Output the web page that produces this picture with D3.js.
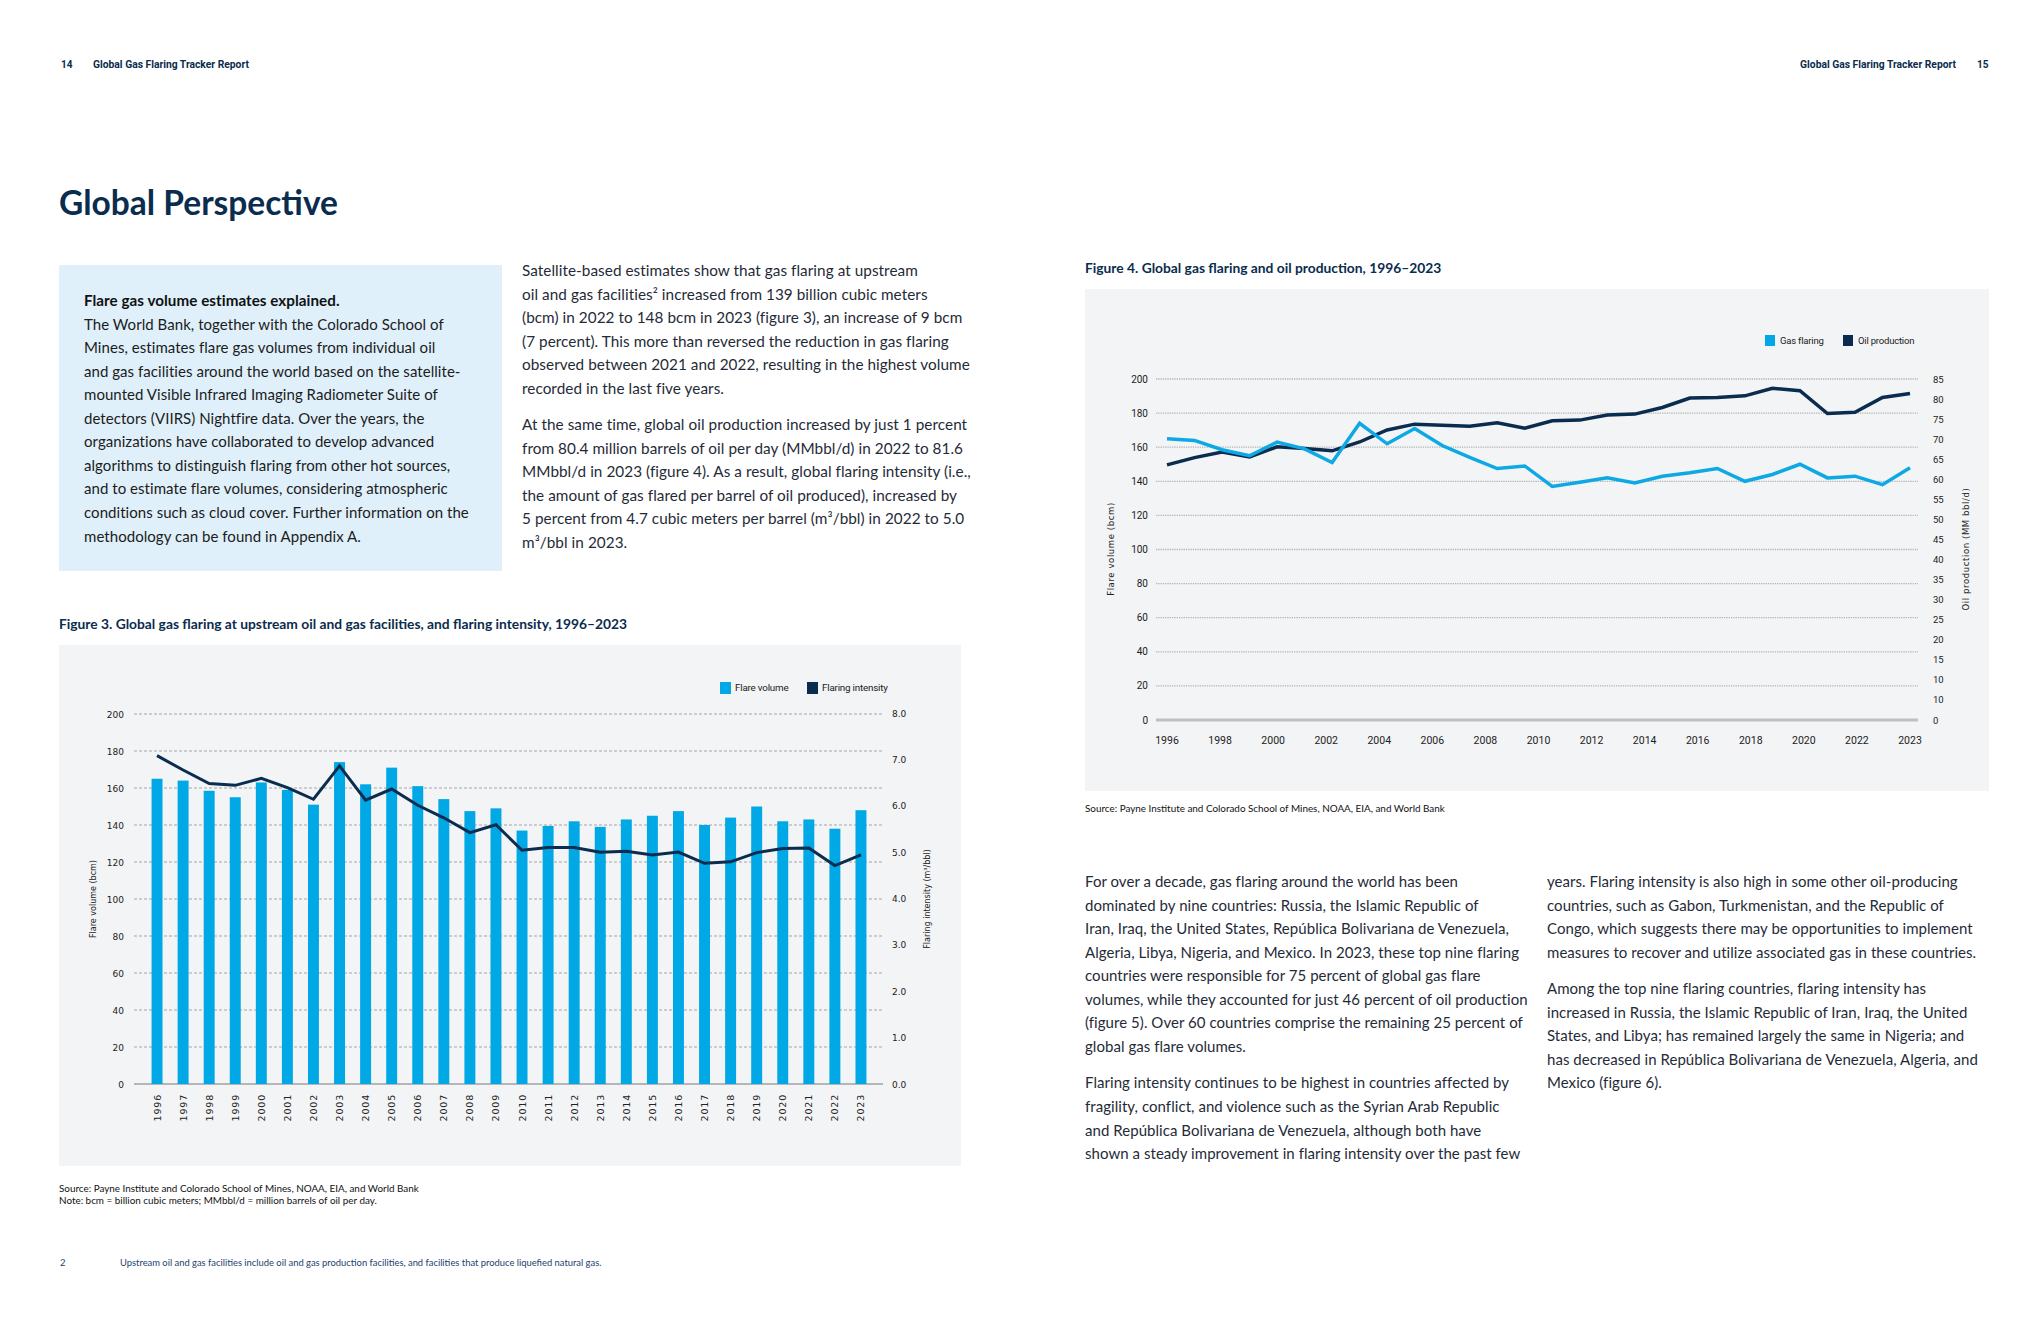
<!DOCTYPE html>
<html>
<head>
<meta charset="utf-8">
<script src="https://cdn.jsdelivr.net/npm/d3@7"></script>
<style>
  html, body { margin: 0; padding: 0; background: #ffffff; }
  svg { display: block; }
</style>
</head>
<body>
<svg id="page" width="2040" height="1320"></svg>
<script>
// ---------------- DATA ----------------
const years = ["1996","1997","1998","1999","2000","2001","2002","2003","2004","2005","2006","2007","2008","2009",
               "2010","2011","2012","2013","2014","2015","2016","2017","2018","2019","2020","2021","2022","2023"];
// Flare volume (bcm)
const flareVolume = [165, 164, 158.5, 155, 163, 159, 151, 174, 162, 171, 161, 154, 147.5, 149,
                     137, 139.5, 142, 139, 143, 145, 147.5, 140, 144, 150, 142, 143, 138, 148];
// Flaring intensity (m3/bbl)
const flaringIntensity = [7.08, 6.77, 6.48, 6.44, 6.59, 6.39, 6.14, 6.86, 6.12, 6.36, 6.01, 5.74, 5.42, 5.59,
                          5.04, 5.10, 5.10, 5.00, 5.02, 4.94, 5.00, 4.76, 4.79, 4.99, 5.08, 5.09, 4.71, 4.94];
// Oil production (MMbbl/d)
const oilProduction = [63.6, 65.4, 66.8, 65.6, 68.1, 67.7, 67.1, 69.3, 72.3, 73.75, 73.5, 73.2, 74.1, 72.75,
                       74.6, 74.75, 76.0, 76.25, 77.9, 80.25, 80.4, 80.8, 82.7, 82.1, 76.4, 76.7, 80.4, 81.4];

const fig3LeftTicks = [0, 20, 40, 60, 80, 100, 120, 140, 160, 180, 200];
const fig3RightTicks = [0, 1, 2, 3, 4, 5, 6, 7, 8];
const fig4LeftTicks = [0, 20, 40, 60, 80, 100, 120, 140, 160, 180, 200];
const fig4RightTickValues = [0, 5, 10, 15, 20, 25, 30, 35, 40, 45, 50, 55, 60, 65, 70, 75, 80, 85];
const fig4RightTickLabels = ["0", "10", "10", "15", "20", "25", "30", "35", "40", "45", "50", "55", "60", "65", "70", "75", "80", "85"];
const fig4XLabels = ["1996","1998","2000","2002","2004","2006","2008","2010","2012","2014","2016","2018","2020","2022","2023"];

const boxText = [
  "The World Bank, together with the Colorado School of",
  "Mines, estimates flare gas volumes from individual oil",
  "and gas facilities around the world based on the satellite-",
  "mounted Visible Infrared Imaging Radiometer Suite of",
  "detectors (VIIRS) Nightfire data. Over the years, the",
  "organizations have collaborated to develop advanced",
  "algorithms to distinguish flaring from other hot sources,",
  "and to estimate flare volumes, considering atmospheric",
  "conditions such as cloud cover. Further information on the",
  "methodology can be found in Appendix A."
];
const midPara1 = [
  "Satellite-based estimates show that gas flaring at upstream",
  "oil and gas facilities² increased from 139 billion cubic meters",
  "(bcm) in 2022 to 148 bcm in 2023 (figure 3), an increase of 9 bcm",
  "(7 percent). This more than reversed the reduction in gas flaring",
  "observed between 2021 and 2022, resulting in the highest volume",
  "recorded in the last five years."
];
const midPara2 = [
  "At the same time, global oil production increased by just 1 percent",
  "from 80.4 million barrels of oil per day (MMbbl/d) in 2022 to 81.6",
  "MMbbl/d in 2023 (figure 4). As a result, global flaring intensity (i.e.,",
  "the amount of gas flared per barrel of oil produced), increased by",
  "5 percent from 4.7 cubic meters per barrel (m³/bbl) in 2022 to 5.0",
  "m³/bbl in 2023."
];
const rightCol1Para1 = [
  "For over a decade, gas flaring around the world has been",
  "dominated by nine countries: Russia, the Islamic Republic of",
  "Iran, Iraq, the United States, República Bolivariana de Venezuela,",
  "Algeria, Libya, Nigeria, and Mexico. In 2023, these top nine flaring",
  "countries were responsible for 75 percent of global gas flare",
  "volumes, while they accounted for just 46 percent of oil production",
  "(figure 5). Over 60 countries comprise the remaining 25 percent of",
  "global gas flare volumes."
];
const rightCol1Para2 = [
  "Flaring intensity continues to be highest in countries affected by",
  "fragility, conflict, and violence such as the Syrian Arab Republic",
  "and República Bolivariana de Venezuela, although both have",
  "shown a steady improvement in flaring intensity over the past few"
];
const rightCol2Para1 = [
  "years. Flaring intensity is also high in some other oil-producing",
  "countries, such as Gabon, Turkmenistan, and the Republic of",
  "Congo, which suggests there may be opportunities to implement",
  "measures to recover and utilize associated gas in these countries."
];
const rightCol2Para2 = [
  "Among the top nine flaring countries, flaring intensity has",
  "increased in Russia, the Islamic Republic of Iran, Iraq, the United",
  "States, and Libya; has remained largely the same in Nigeria; and",
  "has decreased in República Bolivariana de Venezuela, Algeria, and",
  "Mexico (figure 6)."
];

// ---------------- STYLE ----------------
const NAVY = "#0a2c4e";
const BLUE = "#00a8e6";
const TEXT = "#1f2b38";
const PANEL = "#f2f4f6";
const BODY_FONT = "Lato, 'Open Sans', sans-serif";
const CHART_FONT = "'DejaVu Sans', sans-serif";
const COND_FONT = "Roboto, 'Open Sans', sans-serif";
const LH = 23.55;

const svg = d3.select("#page");
svg.append("rect").attr("width", 2040).attr("height", 1320).attr("fill", "#fff");

function textBlock(lines, x, y0, opts = {}) {
  const g = svg.append("g");
  lines.forEach((t, i) => {
    g.append("text").attr("x", x).attr("y", y0 + i * LH)
      .attr("font-family", BODY_FONT).attr("font-size", opts.size || 15)
      .attr("font-weight", opts.weight || 400)
      .attr("letter-spacing", opts.ls || 0.05)
      .attr("fill", opts.fill || TEXT).text(t);
  });
}

// ---------------- HEADERS ----------------
svg.append("text").attr("x", 61).attr("y", 68).attr("font-family", COND_FONT).attr("font-size", 10)
  .attr("font-weight", 700).attr("fill", NAVY).text("14");
svg.append("text").attr("x", 93).attr("y", 68).attr("font-family", COND_FONT).attr("font-size", 10.3)
  .attr("font-weight", 700).attr("fill", NAVY).text("Global Gas Flaring Tracker Report");
svg.append("text").attr("x", 1956).attr("y", 68).attr("text-anchor", "end").attr("font-family", COND_FONT).attr("font-size", 10.3)
  .attr("font-weight", 700).attr("fill", NAVY).text("Global Gas Flaring Tracker Report");
svg.append("text").attr("x", 1977).attr("y", 68).attr("font-family", COND_FONT).attr("font-size", 10)
  .attr("font-weight", 700).attr("fill", NAVY).text("15");

svg.append("text").attr("x", 59).attr("y", 215).attr("font-family", BODY_FONT).attr("font-size", 33.5)
  .attr("font-weight", 700).attr("fill", NAVY).text("Global Perspective");

// ---------------- INFO BOX ----------------
svg.append("rect").attr("x", 59).attr("y", 265).attr("width", 443).attr("height", 306).attr("fill", "#dff0fa");
textBlock(["Flare gas volume estimates explained."], 84, 306, { weight: 700, fill: "#111", size: 15.2 });
textBlock(boxText, 84, 306 + LH, { fill: "#1c1c1c" });

// ---------------- MIDDLE TEXT ----------------
textBlock(midPara1, 522, 276, { size: 15.3 });
textBlock(midPara2, 522, 430, { size: 15.3 });

// ---------------- FIGURE 3 ----------------
svg.append("text").attr("x", 59).attr("y", 629).attr("font-family", BODY_FONT).attr("font-size", 13.8)
  .attr("font-weight", 700).attr("fill", NAVY)
  .text("Figure 3. Global gas flaring at upstream oil and gas facilities, and flaring intensity, 1996–2023");
svg.append("rect").attr("x", 59).attr("y", 645).attr("width", 902).attr("height", 521).attr("fill", PANEL);

const f3 = svg.append("g");
const x3 = d3.scaleBand().domain(years).range([144, 874]).paddingInner(0.58).paddingOuter(0.29);
const y3L = d3.scaleLinear().domain([0, 200]).range([1084, 714]);
const y3R = d3.scaleLinear().domain([0, 8]).range([1084, 713]);

// gridlines
f3.selectAll("line.grid").data(fig3LeftTicks.filter(d => d > 0)).join("line")
  .attr("x1", 134).attr("x2", 883).attr("y1", d => y3L(d)).attr("y2", d => y3L(d))
  .attr("stroke", "#a3a6a9").attr("stroke-width", 1).attr("stroke-dasharray", "3,2");
f3.append("line").attr("x1", 134).attr("x2", 883).attr("y1", y3L(0)).attr("y2", y3L(0))
  .attr("stroke", "#b4b6b8").attr("stroke-width", 2);

// left axis labels
f3.selectAll("text.yl").data(fig3LeftTicks).join("text")
  .attr("x", 124).attr("y", d => y3L(d) + 3.5).attr("text-anchor", "end")
  .attr("font-family", CHART_FONT).attr("font-size", 9).attr("fill", "#222").text(d => d);
// right axis labels
f3.selectAll("text.yr").data(fig3RightTicks).join("text")
  .attr("x", 892).attr("y", d => y3R(d) + 3.5).attr("text-anchor", "start")
  .attr("font-family", CHART_FONT).attr("font-size", 9).attr("fill", "#222").text(d => d3.format(".1f")(d));

// bars
f3.selectAll("rect.bar").data(years).join("rect")
  .attr("x", d => x3(d)).attr("width", x3.bandwidth())
  .attr("y", (d, i) => y3L(flareVolume[i])).attr("height", (d, i) => y3L(0) - y3L(flareVolume[i]))
  .attr("fill", BLUE);

// intensity line
const line3 = d3.line().x((d, i) => x3(years[i]) + x3.bandwidth() / 2).y(d => y3R(d));
f3.append("path").datum(flaringIntensity).attr("d", line3).attr("fill", "none")
  .attr("stroke", NAVY).attr("stroke-width", 3).attr("stroke-linejoin", "miter");

// x labels
f3.selectAll("text.xl").data(years).join("text")
  .attr("transform", d => `translate(${x3(d) + x3.bandwidth() / 2 + 3.5},1094) rotate(-90)`)
  .attr("text-anchor", "end").attr("font-family", CHART_FONT).attr("font-size", 9.5)
  .attr("letter-spacing", 0.8).attr("fill", "#222").text(d => d);

// axis titles
f3.append("text").attr("transform", "translate(96,899) rotate(-90)").attr("text-anchor", "middle")
  .attr("font-family", CHART_FONT).attr("font-size", 8).attr("fill", "#222").text("Flare volume (bcm)");
f3.append("text").attr("transform", "translate(930,899) rotate(-90)").attr("text-anchor", "middle")
  .attr("font-family", CHART_FONT).attr("font-size", 8).attr("fill", "#222").text("Flaring intensity (m³/bbl)");

// legend
const leg3 = [{ label: "Flare volume", color: BLUE, x: 720 }, { label: "Flaring intensity", color: NAVY, x: 807 }];
leg3.forEach(l => {
  f3.append("rect").attr("x", l.x).attr("y", 682).attr("width", 11).attr("height", 12).attr("fill", l.color);
  f3.append("text").attr("x", l.x + 15).attr("y", 691).attr("font-family", COND_FONT).attr("font-size", 9.8)
    .attr("fill", "#222").attr("letter-spacing", -0.2).text(l.label);
});

// footnotes
svg.append("text").attr("x", 59).attr("y", 1192).attr("font-family", BODY_FONT).attr("font-size", 9.9)
  .attr("fill", "#111").text("Source: Payne Institute and Colorado School of Mines, NOAA, EIA, and World Bank");
svg.append("text").attr("x", 59).attr("y", 1204).attr("font-family", BODY_FONT).attr("font-size", 9.9)
  .attr("fill", "#111").text("Note: bcm = billion cubic meters; MMbbl/d = million barrels of oil per day.");
svg.append("text").attr("x", 60).attr("y", 1266).attr("font-family", BODY_FONT).attr("font-size", 9.5)
  .attr("fill", "#1d3f6e").text("2");
svg.append("text").attr("x", 120).attr("y", 1266).attr("font-family", BODY_FONT).attr("font-size", 9.4)
  .attr("fill", "#1d3f6e").text("Upstream oil and gas facilities include oil and gas production facilities, and facilities that produce liquefied natural gas.");

// ---------------- FIGURE 4 ----------------
svg.append("text").attr("x", 1085).attr("y", 273).attr("font-family", BODY_FONT).attr("font-size", 13.8)
  .attr("font-weight", 700).attr("fill", NAVY)
  .text("Figure 4. Global gas flaring and oil production, 1996–2023");
svg.append("rect").attr("x", 1085).attr("y", 289).attr("width", 904).attr("height", 502).attr("fill", PANEL);

const f4 = svg.append("g");
const x4 = d3.scalePoint().domain(years).range([1167, 1910]);
const x4Labels = d3.scalePoint().domain(fig4XLabels).range([1167, 1910]);
const y4L = d3.scaleLinear().domain([0, 200]).range([720, 379]);
const y4R = d3.scaleLinear().domain([0, 85]).range([720, 379]);

f4.selectAll("line.grid").data(fig4LeftTicks.filter(d => d > 0)).join("line")
  .attr("x1", 1156).attr("x2", 1918).attr("y1", d => y4L(d)).attr("y2", d => y4L(d))
  .attr("stroke", "#b2b4b6").attr("stroke-width", 1.3).attr("stroke-dasharray", "1.3,1");
f4.append("line").attr("x1", 1156).attr("x2", 1918).attr("y1", y4L(0)).attr("y2", y4L(0))
  .attr("stroke", "#bdbfc1").attr("stroke-width", 3);

f4.selectAll("text.yl").data(fig4LeftTicks).join("text")
  .attr("x", 1148).attr("y", d => y4L(d) + 3.5).attr("text-anchor", "end")
  .attr("font-family", COND_FONT).attr("font-size", 10).attr("fill", "#222").text(d => d);
f4.selectAll("text.yr").data(fig4RightTickValues).join("text")
  .attr("x", 1933).attr("y", d => y4R(d) + 3.5).attr("text-anchor", "start")
  .attr("font-family", COND_FONT).attr("font-size", 9.5).attr("fill", "#222")
  .text((d, i) => fig4RightTickLabels[i]);
f4.selectAll("text.xl").data(fig4XLabels).join("text")
  .attr("x", d => x4Labels(d)).attr("y", 744).attr("text-anchor", "middle")
  .attr("font-family", COND_FONT).attr("font-size", 10.5).attr("fill", "#222").text(d => d);

const lineFlare = d3.line().x((d, i) => x4(years[i])).y(d => y4L(d));
const lineOil = d3.line().x((d, i) => x4(years[i])).y(d => y4R(d));
f4.append("path").datum(oilProduction).attr("d", lineOil).attr("fill", "none")
  .attr("stroke", NAVY).attr("stroke-width", 3.5);
f4.append("path").datum(flareVolume).attr("d", lineFlare).attr("fill", "none")
  .attr("stroke", "#0ea9e4").attr("stroke-width", 3.5);

f4.append("text").attr("transform", "translate(1114,549) rotate(-90)").attr("text-anchor", "middle")
  .attr("font-family", CHART_FONT).attr("font-size", 8.5).attr("letter-spacing", 0.6).attr("fill", "#222").text("Flare volume (bcm)");
f4.append("text").attr("transform", "translate(1969,549) rotate(-90)").attr("text-anchor", "middle")
  .attr("font-family", CHART_FONT).attr("font-size", 8.5).attr("letter-spacing", 0.6).attr("fill", "#222").text("Oil production (MM bbl/d)");

const leg4 = [{ label: "Gas flaring", color: BLUE, x: 1765 }, { label: "Oil production", color: NAVY, x: 1843 }];
leg4.forEach(l => {
  f4.append("rect").attr("x", l.x).attr("y", 335).attr("width", 10).attr("height", 11).attr("fill", l.color);
  f4.append("text").attr("x", l.x + 15).attr("y", 344).attr("font-family", COND_FONT).attr("font-size", 9.5)
    .attr("fill", "#222").attr("letter-spacing", -0.2).text(l.label);
});

svg.append("text").attr("x", 1085).attr("y", 812).attr("font-family", BODY_FONT).attr("font-size", 9.9)
  .attr("fill", "#111").text("Source: Payne Institute and Colorado School of Mines, NOAA, EIA, and World Bank");

// ---------------- RIGHT TEXT ----------------
textBlock(rightCol1Para1, 1085, 887);
textBlock(rightCol1Para2, 1085, 887 + 7 * LH + 36.6);
textBlock(rightCol2Para1, 1547, 887);
textBlock(rightCol2Para2, 1547, 887 + 3 * LH + 36.6);
</script>
</body>
</html>
